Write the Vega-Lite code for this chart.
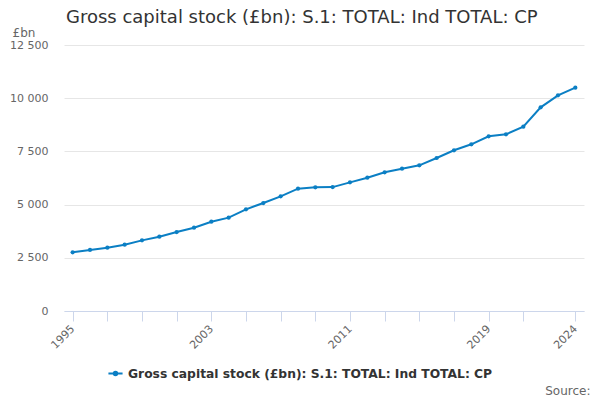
{
  "$schema": "https://vega.github.io/schema/vega-lite/v6.json",
  "width": 520,
  "height": 266,
  "autosize": {"type": "none"},
  "padding": {"left": 64, "top": 45, "right": 16, "bottom": 89},
  "background": "white",
  "title": {
    "text": "Gross capital stock (£bn): S.1: TOTAL: Ind TOTAL: CP",
    "anchor": "start",
    "frame": "group",
    "font": "DejaVu Sans",
    "fontSize": 18,
    "fontWeight": "normal",
    "color": "#333333",
    "offset": -1,
    "dx": 2
  },
  "config": {
    "view": {"stroke": null},
    "font": "DejaVu Sans"
  },
  "data": {
    "values": [
      {"year": 1995, "value": 2758, "series": "Gross capital stock (£bn): S.1: TOTAL: Ind TOTAL: CP"},
      {"year": 1996, "value": 2867, "series": "Gross capital stock (£bn): S.1: TOTAL: Ind TOTAL: CP"},
      {"year": 1997, "value": 2976, "series": "Gross capital stock (£bn): S.1: TOTAL: Ind TOTAL: CP"},
      {"year": 1998, "value": 3117, "series": "Gross capital stock (£bn): S.1: TOTAL: Ind TOTAL: CP"},
      {"year": 1999, "value": 3320, "series": "Gross capital stock (£bn): S.1: TOTAL: Ind TOTAL: CP"},
      {"year": 2000, "value": 3493, "series": "Gross capital stock (£bn): S.1: TOTAL: Ind TOTAL: CP"},
      {"year": 2001, "value": 3712, "series": "Gross capital stock (£bn): S.1: TOTAL: Ind TOTAL: CP"},
      {"year": 2002, "value": 3916, "series": "Gross capital stock (£bn): S.1: TOTAL: Ind TOTAL: CP"},
      {"year": 2003, "value": 4197, "series": "Gross capital stock (£bn): S.1: TOTAL: Ind TOTAL: CP"},
      {"year": 2004, "value": 4386, "series": "Gross capital stock (£bn): S.1: TOTAL: Ind TOTAL: CP"},
      {"year": 2005, "value": 4777, "series": "Gross capital stock (£bn): S.1: TOTAL: Ind TOTAL: CP"},
      {"year": 2006, "value": 5075, "series": "Gross capital stock (£bn): S.1: TOTAL: Ind TOTAL: CP"},
      {"year": 2007, "value": 5388, "series": "Gross capital stock (£bn): S.1: TOTAL: Ind TOTAL: CP"},
      {"year": 2008, "value": 5750, "series": "Gross capital stock (£bn): S.1: TOTAL: Ind TOTAL: CP"},
      {"year": 2009, "value": 5811, "series": "Gross capital stock (£bn): S.1: TOTAL: Ind TOTAL: CP"},
      {"year": 2010, "value": 5822, "series": "Gross capital stock (£bn): S.1: TOTAL: Ind TOTAL: CP"},
      {"year": 2011, "value": 6046, "series": "Gross capital stock (£bn): S.1: TOTAL: Ind TOTAL: CP"},
      {"year": 2012, "value": 6264, "series": "Gross capital stock (£bn): S.1: TOTAL: Ind TOTAL: CP"},
      {"year": 2013, "value": 6518, "series": "Gross capital stock (£bn): S.1: TOTAL: Ind TOTAL: CP"},
      {"year": 2014, "value": 6687, "series": "Gross capital stock (£bn): S.1: TOTAL: Ind TOTAL: CP"},
      {"year": 2015, "value": 6846, "series": "Gross capital stock (£bn): S.1: TOTAL: Ind TOTAL: CP"},
      {"year": 2016, "value": 7190, "series": "Gross capital stock (£bn): S.1: TOTAL: Ind TOTAL: CP"},
      {"year": 2017, "value": 7552, "series": "Gross capital stock (£bn): S.1: TOTAL: Ind TOTAL: CP"},
      {"year": 2018, "value": 7833, "series": "Gross capital stock (£bn): S.1: TOTAL: Ind TOTAL: CP"},
      {"year": 2019, "value": 8209, "series": "Gross capital stock (£bn): S.1: TOTAL: Ind TOTAL: CP"},
      {"year": 2020, "value": 8303, "series": "Gross capital stock (£bn): S.1: TOTAL: Ind TOTAL: CP"},
      {"year": 2021, "value": 8662, "series": "Gross capital stock (£bn): S.1: TOTAL: Ind TOTAL: CP"},
      {"year": 2022, "value": 9572, "series": "Gross capital stock (£bn): S.1: TOTAL: Ind TOTAL: CP"},
      {"year": 2023, "value": 10136, "series": "Gross capital stock (£bn): S.1: TOTAL: Ind TOTAL: CP"},
      {"year": 2024, "value": 10494, "series": "Gross capital stock (£bn): S.1: TOTAL: Ind TOTAL: CP"}
    ]
  },
  "mark": {
    "type": "line",
    "strokeWidth": 2,
    "point": {"size": 18, "filled": true}
  },
  "encoding": {
    "x": {
      "field": "year",
      "type": "quantitative",
      "scale": {"domain": [1994.5, 2024.5], "nice": false, "zero": false},
      "axis": {
        "title": "Source:",
        "titleFont": "DejaVu Sans",
        "titleFontSize": 12,
        "titleFontWeight": "normal",
        "titleColor": "#666666",
        "titleAnchor": "end",
        "titleAlign": "right",
        "titleBaseline": "middle",
        "titleX": 526,
        "titleY": 79,
        "values": [1995, 1997, 1999, 2001, 2003, 2005, 2007, 2009, 2011, 2013, 2015, 2017, 2019, 2021, 2024],
        "labelExpr": "indexof([1995, 2003, 2011, 2019, 2024], datum.value) >= 0 ? '' + datum.value : ''",
        "labelAngle": -45,
        "labelAlign": "right",
        "labelBaseline": "middle",
        "labelFontSize": 11,
        "labelColor": "#666666",
        "labelPadding": 6,
        "labelOverlap": false,
        "labelFlush": false,
        "grid": false,
        "domainColor": "#ccd6eb",
        "tickColor": "#ccd6eb",
        "tickSize": 10
      }
    },
    "y": {
      "field": "value",
      "type": "quantitative",
      "scale": {"domain": [0, 12500], "nice": false},
      "axis": {
        "title": "£bn",
        "titleAngle": 0,
        "titleFont": "DejaVu Sans",
        "titleFontSize": 12,
        "titleFontWeight": "normal",
        "titleColor": "#666666",
        "titleAlign": "left",
        "titleBaseline": "middle",
        "titleX": -52,
        "titleY": -13,
        "values": [0, 2500, 5000, 7500, 10000, 12500],
        "labelExpr": "replace(format(datum.value, ','), ',', ' ')",
        "labelFontSize": 11,
        "labelColor": "#666666",
        "labelPadding": 16,
        "ticks": false,
        "domain": false,
        "gridColor": "#e6e6e6"
      }
    },
    "color": {
      "field": "series",
      "type": "nominal",
      "scale": {"range": ["#0b7fc4"]},
      "legend": {
        "title": null,
        "orient": "none",
        "legendX": 43,
        "legendY": 320,
        "direction": "horizontal",
        "symbolType": "M-1,0H1M-0.25,0A0.25,0.25 0 1,0 0.25,0A0.25,0.25 0 1,0 -0.25,0Z",
        "symbolSize": 200,
        "symbolStrokeWidth": 2,
        "symbolFillColor": "#0b7fc4",
        "labelFont": "DejaVu Sans",
        "labelFontSize": 12.3,
        "labelFontWeight": "bold",
        "labelColor": "#333333",
        "labelLimit": 600,
        "padding": 0
      }
    }
  }
}
